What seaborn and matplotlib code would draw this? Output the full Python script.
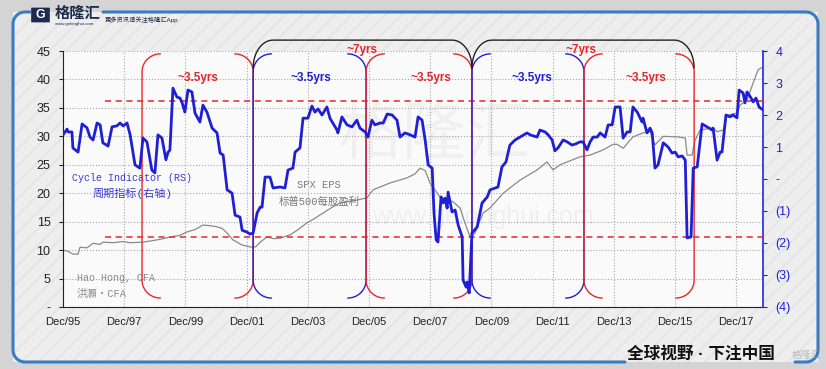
import numpy as np
import matplotlib
matplotlib.use("Agg")
import matplotlib.pyplot as plt
from matplotlib.lines import Line2D
from matplotlib.patches import Rectangle, FancyBboxPatch
import seaborn as sns

# 周期指标 Cycle Indicator (RS), 右轴
cycle_year = [1995.92, 1996.05, 1996.08, 1996.21, 1996.24, 1996.41, 1996.54, 1996.70, 1996.80, 1996.90,
              1997.03, 1997.13, 1997.22, 1997.39, 1997.52, 1997.68, 1997.78, 1997.88, 1998.01, 1998.11,
              1998.27, 1998.43, 1998.53, 1998.66, 1998.82, 1998.92, 1999.02, 1999.15, 1999.28, 1999.35,
              1999.41, 1999.51, 1999.64, 1999.74, 1999.81, 1999.90, 2000.00, 2000.13, 2000.23, 2000.39,
              2000.49, 2000.62, 2000.79, 2000.95, 2001.05, 2001.15, 2001.28, 2001.44, 2001.54, 2001.70,
              2001.77, 2001.93, 2002.03, 2002.13, 2002.26, 2002.36, 2002.42, 2002.52, 2002.68, 2002.78,
              2003.01, 2003.17, 2003.27, 2003.43, 2003.50, 2003.66, 2003.76, 2003.92, 2004.05, 2004.15,
              2004.25, 2004.38, 2004.54, 2004.64, 2004.87, 2004.90, 2005.03, 2005.20, 2005.36, 2005.52,
              2005.62, 2005.79, 2005.88, 2006.01, 2006.11, 2006.28, 2006.38, 2006.51, 2006.67, 2006.83,
              2006.93, 2007.09, 2007.26, 2007.42, 2007.52, 2007.65, 2007.75, 2007.85, 2007.98, 2008.04,
              2008.11, 2008.17, 2008.27, 2008.34, 2008.40, 2008.47, 2008.50, 2008.63, 2008.73, 2008.83,
              2008.96, 2008.99, 2009.09, 2009.12, 2009.19, 2009.28, 2009.45, 2009.61, 2009.78, 2009.87,
              2010.13, 2010.26, 2010.39, 2010.52, 2010.69, 2010.85, 2011.08, 2011.18, 2011.41, 2011.50,
              2011.67, 2011.77, 2011.90, 2011.99, 2012.09, 2012.26, 2012.39, 2012.55, 2012.68, 2012.81,
              2012.91, 2013.04, 2013.14, 2013.24, 2013.37, 2013.47, 2013.63, 2013.73, 2013.86, 2013.96,
              2014.12, 2014.22, 2014.35, 2014.45, 2014.54, 2014.68, 2014.84, 2014.87, 2015.00, 2015.10,
              2015.17, 2015.26, 2015.36, 2015.53, 2015.69, 2015.82, 2015.92, 2016.02, 2016.15, 2016.25,
              2016.31, 2016.44, 2016.51, 2016.64, 2016.80, 2016.96, 2017.13, 2017.16, 2017.29, 2017.39,
              2017.45, 2017.58, 2017.71, 2017.81, 2017.94, 2018.01, 2018.14, 2018.20, 2018.27, 2018.40,
              2018.47, 2018.56, 2018.66, 2018.79]
cycle_val = [1.38, 1.56, 1.47, 1.47, 0.97, 0.84, 1.72, 1.60, 1.31, 1.22,
             1.75, 1.69, 1.13, 1.03, 1.63, 1.66, 1.75, 1.66, 1.75, 1.38,
             0.44, 0.34, 1.28, 1.16, 0.28, 0.19, 1.38, 1.28, 0.60, 0.84,
             0.90, 2.84, 2.56, 2.53, 2.38, 2.09, 2.78, 2.72, 2.06, 1.78,
             2.31, 2.09, 1.59, 1.44, 0.81, 0.75, -0.34, -0.44, -1.13, -1.19,
             -1.60, -1.66, -1.72, -1.69, -1.06, -0.88, -0.88, 0.06, 0.06, -0.28,
             -0.25, -0.28, 0.28, 0.34, 0.84, 0.97, 1.90, 1.90, 2.28, 2.09,
             2.19, 2.00, 2.25, 1.90, 1.53, 1.44, 1.94, 1.69, 1.63, 1.84,
             1.59, 1.47, 1.31, 1.84, 1.69, 1.75, 1.75, 2.03, 2.00, 1.84,
             1.31, 1.44, 1.38, 1.31, 1.94, 1.84, 1.22, 0.44, 0.34, -1.06,
             -1.90, -1.97, -0.56, -0.75, -0.60, -0.91, -0.41, -1.03, -0.97, -1.44,
             -1.81, -3.16, -3.38, -3.22, -3.56, -1.69, -1.50, -0.75, -0.56, -0.34,
             -0.25, 0.38, 0.53, 1.06, 1.22, 1.31, 1.44, 1.38, 1.31, 1.53,
             1.47, 1.38, 1.22, 0.88, 0.97, 1.22, 1.16, 1.06, 1.10, 1.16,
             1.16, 0.91, 1.16, 1.31, 1.31, 1.44, 1.31, 1.69, 1.69, 2.25,
             2.25, 1.28, 1.47, 1.47, 2.25, 2.09, 1.78, 1.90, 1.44, 1.59,
             1.44, 0.34, 0.44, 1.13, 1.00, 0.81, 0.84, 0.69, 0.72, 0.59,
             -1.84, -1.81, 0.34, 0.38, 1.72, 1.63, 1.53, 1.59, 0.59, 0.84,
             0.84, 2.00, 1.94, 2.00, 1.91, 2.78, 2.69, 2.38, 2.72, 2.53,
             2.41, 2.53, 2.25, 2.16]

# 标普500每股盈利 SPX EPS, 左轴
eps_year = [1995.92, 1996.08, 1996.24, 1996.41, 1996.47, 1996.70, 1996.90, 1997.13, 1997.22, 1997.55,
            1997.88, 1998.11, 1998.53, 1998.76, 1998.99, 1999.18, 1999.41, 1999.74, 1999.97, 2000.23,
            2000.49, 2000.72, 2000.95, 2001.12, 2001.28, 2001.47, 2001.77, 2002.09, 2002.22, 2002.36,
            2002.58, 2002.81, 2003.01, 2003.34, 2003.60, 2003.89, 2004.15, 2004.41, 2004.67, 2004.97,
            2005.52, 2005.85, 2006.05, 2006.60, 2007.16, 2007.42, 2007.58, 2007.75, 2007.91, 2008.24,
            2008.66, 2008.89, 2009.05, 2009.22, 2009.38, 2009.64, 2009.87, 2010.30, 2010.85, 2011.41,
            2011.73, 2011.93, 2012.16, 2012.81, 2013.14, 2013.56, 2013.89, 2014.02, 2014.22, 2014.54,
            2014.87, 2015.10, 2015.26, 2015.53, 2015.99, 2016.25, 2016.31, 2016.47, 2016.57, 2016.73,
            2017.16, 2017.29, 2017.49, 2017.62, 2017.94, 2018.04, 2018.27, 2018.47, 2018.63, 2018.79]
eps_val = [10.0, 9.8, 9.3, 9.3, 10.5, 10.4, 11.2, 11.0, 11.4, 11.3,
           11.5, 11.3, 11.4, 11.6, 11.8, 12.0, 12.3, 12.6, 13.2, 13.6,
           14.4, 14.3, 14.1, 13.8, 13.0, 11.8, 10.9, 10.5, 10.6, 11.4,
           12.3, 12.0, 12.1, 12.7, 13.6, 14.8, 15.6, 16.5, 17.4, 18.3,
           18.8, 19.2, 20.6, 21.8, 22.7, 23.4, 24.4, 24.0, 21.8, 19.3,
           18.5, 17.4, 14.8, 12.3, 13.0, 16.5, 17.4, 20.0, 22.3, 24.1,
           25.5, 24.1, 25.0, 26.4, 26.7, 27.6, 28.6, 28.6, 27.9, 29.9,
           30.6, 30.8, 28.5, 30.0, 29.9, 29.7, 26.7, 26.7, 29.3, 31.1,
           31.5, 30.8, 31.1, 33.7, 34.1, 35.5, 36.4, 39.4, 41.7, 42.2]

x_ticks = [1995.917 + 2 * i for i in range(12)]
x_labels = ["Dec/95", "Dec/97", "Dec/99", "Dec/01", "Dec/03", "Dec/05",
            "Dec/07", "Dec/09", "Dec/11", "Dec/13", "Dec/15", "Dec/17"]
left_ticks = list(range(0, 50, 5))
left_labels = ["-"] + [str(v) for v in range(5, 50, 5)]
right_ticks = list(range(-4, 5))
right_labels = ["(4)", "(3)", "(2)", "(1)", "-", "1", "2", "3", "4"]

upper_band = 2.45
lower_band = -1.81
# ~3.5年周期的边界
cycle_edges = [1998.50, 2002.13, 2005.82, 2009.28, 2012.94, 2016.54]
half_label_x = [2000.33, 2004.02, 2007.94, 2011.24, 2014.97]
long_cycles = [(2002.13, 2009.28), (2009.28, 2016.54)]
long_label_x = [2005.69, 2012.84]

RED = "#e8262b"
BLUE = "#1f1fd6"
GRAY = "#8a8a8a"

sns.set_style("white")
plt.rcParams["font.family"] = ["Liberation Sans", "Noto Sans CJK SC", "DejaVu Sans"]
plt.rcParams["hatch.linewidth"] = 1.5

W, H = 826, 369
fig = plt.figure(figsize=(W / 100, H / 100), dpi=100, facecolor="#d4d4d4")


def fx(x):
    return x / W


def fy(y):
    return 1 - y / H


# 背景面板
panel = Rectangle((fx(13), fy(362)), fx(805), (362 - 12) / H, transform=fig.transFigure,
                  facecolor="#eeeeee", edgecolor="none", zorder=-10)
fig.add_artist(panel)
stripes = Rectangle((fx(13), fy(362)), fx(805), (362 - 12) / H, transform=fig.transFigure,
                    facecolor="none", edgecolor="#e5e5e5", hatch="//", lw=0, zorder=-9)
fig.add_artist(stripes)

ax = fig.add_axes([fx(63), fy(307), fx(700), (307 - 51) / H])
ax.set_facecolor("#fafafa")
ax2 = ax.twinx()

sns.lineplot(x=eps_year, y=eps_val, ax=ax, color=GRAY, lw=0.9, zorder=2)
sns.lineplot(x=cycle_year, y=cycle_val, ax=ax2, color=BLUE, lw=2.0, zorder=4)

xmin, xmax = 1995.917, 2018.79
ax.set_xlim(xmin, xmax)
ax.set_ylim(0, 45)
ax2.set_ylim(-4, 4)

ax.set_xticks(x_ticks)
ax.set_xticklabels(x_labels)
ax.set_yticks(left_ticks)
ax.set_yticklabels(left_labels)
ax2.set_yticks(right_ticks)
ax2.set_yticklabels(right_labels)

ax.grid(True, linestyle=":", color="#a8a8a8", lw=0.8)
ax2.grid(False)
ax.tick_params(axis="x", direction="in", length=4, labelsize=8, pad=7, colors="#222222")
ax.tick_params(axis="y", direction="out", length=3, labelsize=9, pad=6, colors="#222222")
ax2.tick_params(axis="y", direction="out", length=3, labelsize=9, pad=6, colors=BLUE)
for a in (ax, ax2):
    for s in a.spines.values():
        s.set_visible(False)
ax.spines["left"].set_visible(True)
ax.spines["bottom"].set_visible(True)
ax.spines["left"].set_color("#222222")
ax.spines["bottom"].set_color("#222222")
ax2.spines["right"].set_visible(True)
ax2.spines["right"].set_color("#3434e0")
ax2.spines["right"].set_linewidth(1.3)
ax.set_xlabel("")
ax.set_ylabel("")
ax2.set_ylabel("")

# 红色虚线
ax2.hlines([upper_band, lower_band], 1997.29, xmax, colors=RED, linestyles=(0, (4, 3)), lw=1.1, zorder=3)


# 括号
def side(x, top, bot, rx, ry, d, color):
    t = np.linspace(0, np.pi / 2, 20)
    cx = x + d * rx
    xs = list(cx - d * rx * np.sin(t)) + list(cx - d * rx * np.cos(t))
    ys = list(top - ry + ry * np.cos(t)) + list(bot + ry - ry * np.sin(t))
    ax2.plot(xs, ys, color=color, lw=1.0, clip_on=False, zorder=3)


colors = [RED, BLUE, RED, BLUE, RED]
for i in range(len(cycle_edges) - 1):
    side(cycle_edges[i], 3.91, -3.72, 0.6, 0.56, 1, colors[i])
    side(cycle_edges[i + 1], 3.91, -3.72, 0.6, 0.56, -1, colors[i])
    ax2.text(half_label_x[i], 3.16, "~3.5yrs", color=colors[i], fontsize=8.5,
             fontweight="bold", ha="center", va="center", zorder=5)

for (x0, x1), lx in zip(long_cycles, long_label_x):
    t = np.linspace(0, np.pi / 2, 20)
    rx, ry, top = 0.65, 0.87, 4.34
    xs = list(x0 + rx - rx * np.cos(t)) + list(x1 - rx + rx * np.sin(t))
    ys = list(top - ry + ry * np.sin(t)) + list(top - ry + ry * np.cos(t))
    ax2.plot(xs, ys, color="#222222", lw=1.0, clip_on=False, zorder=3)
    ax2.text(lx, 4.03, "~7yrs", color=RED, fontsize=8.5, fontweight="bold",
             ha="center", va="center", zorder=5, clip_on=False)

mono = ["Liberation Mono", "Noto Sans CJK SC"]
ax.text(0.099, 0.504, "Cycle Indicator (RS)", transform=ax.transAxes, color="#3a3ad0",
        fontsize=7.2, family=mono, ha="center", va="center", zorder=6)
ax.text(0.099, 0.445, "周期指标(右轴)", transform=ax.transAxes, color="#3a3ad0",
        fontsize=8, family=mono, ha="center", va="center", zorder=6)
ax.text(0.366, 0.477, "SPX EPS", transform=ax.transAxes, color="#7a7a7a",
        fontsize=7.5, family=mono, ha="center", va="center", zorder=6)
ax.text(0.366, 0.41, "标普500每股盈利", transform=ax.transAxes, color="#7a7a7a",
        fontsize=7.5, family=mono, ha="center", va="center", zorder=6)
ax.text(0.02, 0.113, "Hao Hong, CFA", transform=ax.transAxes, color="#8a8a8a",
        fontsize=7.2, family=mono, ha="left", va="center", zorder=6)
ax.text(0.02, 0.05, "洪灝・CFA", transform=ax.transAxes, color="#8a8a8a",
        fontsize=7.5, family=mono, ha="left", va="center", zorder=6)

# 水印
ax.text(0.53, 0.665, "格隆汇", transform=ax.transAxes, color="#000000", alpha=0.04,
        fontsize=46, ha="center", va="center", zorder=1)
ax.text(0.6, 0.35, "www.gelonghui.com", transform=ax.transAxes, color="#000000", alpha=0.045,
        fontsize=18, ha="center", va="center", zorder=1)

# 边框
bc = "#3b7bc4"
t = np.linspace(0, np.pi / 2, 20)
r = 12
left_x = [30, 25] + list(13 + r - r * np.sin(t)) + list(13 + r - r * np.cos(t)) + [625]
left_y = [12, 12] + list(12 + r - r * np.cos(t))
left_y += list(362 - r + r * np.sin(t)) + [362]
fig.add_artist(Line2D([fx(v) for v in left_x], [fy(v) for v in left_y],
                      transform=fig.transFigure, color=bc, lw=2.2))
right_x = [103, 806] + list(806 + r * np.sin(t)) + list(806 + r * np.cos(t)) + [795]
right_y = [12, 12] + list(12 + r - r * np.cos(t)) + list(362 - r + r * np.sin(t)) + [362]
fig.add_artist(Line2D([fx(v) for v in right_x], [fy(v) for v in right_y],
                      transform=fig.transFigure, color=bc, lw=2.2))

logo = FancyBboxPatch((fx(32), fy(22)), fx(17), 14 / H, boxstyle="round,pad=0.001",
                      transform=fig.transFigure, facecolor="#1d2b4c", edgecolor="none")
fig.add_artist(logo)
fig.text(fx(40.5), fy(14.5), "G", color="white", fontsize=9, fontweight="bold",
         ha="center", va="center")
fig.text(fx(55), fy(14), "格隆汇", color="#1d2b4c", fontsize=11, fontweight="bold",
         ha="left", va="center")
fig.text(fx(55), fy(23.5), "www.gelonghui.com", color="#1d2b4c", fontsize=3.2,
         ha="left", va="center")
fig.text(fx(105), fy(19.5), "更多资讯请关注格隆汇App", color="#1d2b4c", fontsize=4.5,
         ha="left", va="center")
fig.text(fx(627), fy(355), "全球视野 · 下注中国", color="#111111", fontsize=12,
         fontweight="bold", ha="left", va="center")
fig.text(fx(792), fy(355), "格隆汇", color="#9a9a9a", alpha=0.6, fontsize=7,
         ha="left", va="center")

fig.savefig("out.png", dpi=100, facecolor=fig.get_facecolor())
